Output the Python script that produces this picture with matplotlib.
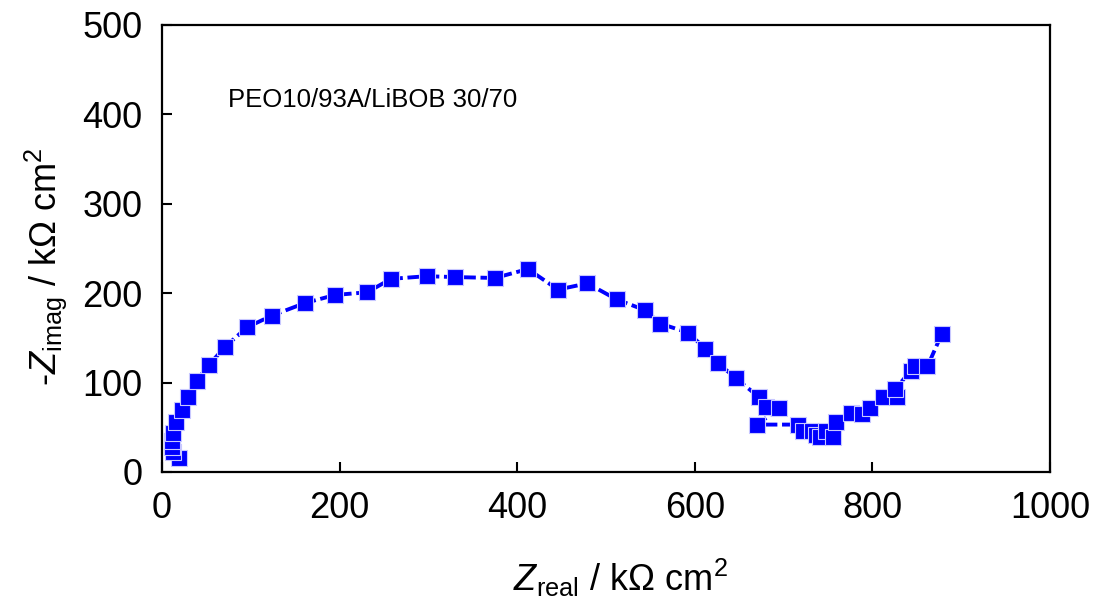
import matplotlib
matplotlib.use("Agg")
import matplotlib.pyplot as plt

# Nyquist data, high to low frequency
z_real = [19, 12, 11, 11, 12, 16, 22, 29, 39, 53, 71, 96, 124, 161, 195, 231,
          258, 298, 330, 375, 412, 446, 479, 512, 544, 561, 592, 612, 626, 646,
          672, 680, 695, 670, 716, 722, 732, 736, 741, 748, 756, 759, 776, 788,
          797, 812, 828, 826, 843, 848, 862, 878]
z_imag = [16, 22, 28, 35, 44, 56, 69, 84, 102, 120, 140, 162, 175, 189, 198, 201,
          216, 219, 218, 217, 227, 204, 211, 193, 181, 166, 156, 138, 122, 105,
          84, 73, 71, 53, 53, 46, 46, 41, 39, 46, 39, 56, 66, 65,
          71, 84, 84, 93, 113, 118, 118, 154]

x_ticks = [0, 200, 400, 600, 800, 1000]
y_ticks = [0, 100, 200, 300, 400, 500]
sample_label = "PEO10/93A/LiBOB 30/70"

plt.rcParams["font.family"] = ["Liberation Sans", "DejaVu Sans"]
plt.rcParams["mathtext.fontset"] = "custom"
plt.rcParams["mathtext.rm"] = "Liberation Sans"
plt.rcParams["mathtext.it"] = "Liberation Sans:italic"

fig = plt.figure(figsize=(11, 6.12), dpi=100)
ax = fig.add_axes([0.1473, 0.2288, 0.8072, 0.7304])

ax.plot(z_real, z_imag, color="#0000ff", lw=2.8, dashes=[3.5, 1.2],
        marker="s", markersize=11, markerfacecolor="#0000ff",
        markeredgecolor="#c8c8ff", markeredgewidth=0.8)

ax.set_xlim(0, 1000)
ax.set_ylim(0, 500)
ax.set_xticks(x_ticks)
ax.set_yticks(y_ticks)
ax.tick_params(direction="in", length=7, width=1.5, labelsize=26,
               top=False, right=False)
ax.tick_params(axis="x", pad=14)
ax.tick_params(axis="y", pad=14)
for spine in ax.spines.values():
    spine.set_linewidth(1.6)

ax.set_xlabel(r"$\it{Z}$$_{\rm real}$ / k$\Omega$ cm$^2$", fontsize=26)
ax.set_ylabel(r"-$\it{Z}$$_{\rm imag}$ / k$\Omega$ cm$^2$", fontsize=26)
ax.xaxis.set_label_coords(0.516, -0.19)
ax.yaxis.set_label_coords(-0.105, 0.46)

ax.text(74, 408, sample_label, fontsize=18.5, ha="left", va="baseline")

fig.savefig("out.png", dpi=100)
